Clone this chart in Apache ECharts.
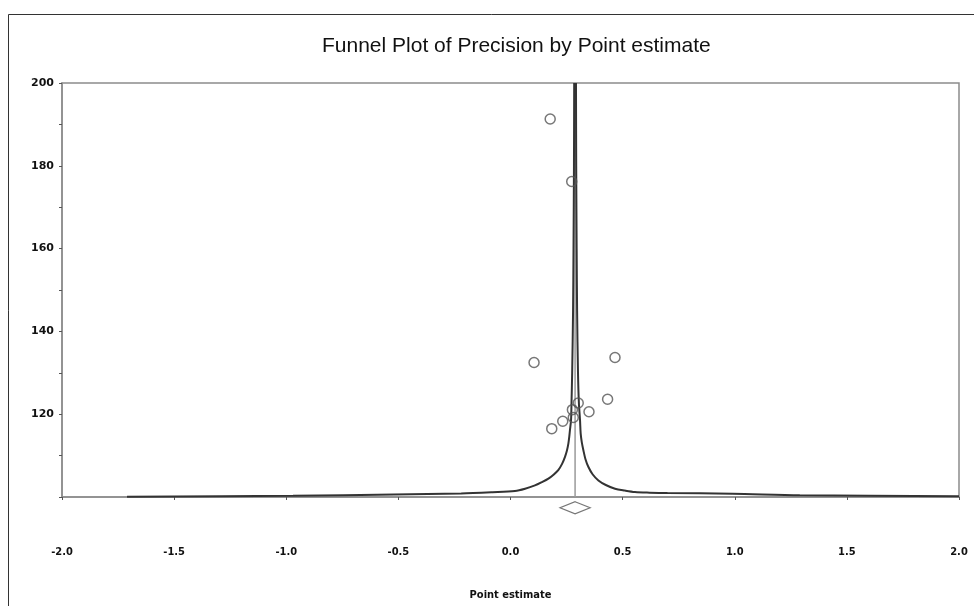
<!DOCTYPE html>
<html>
<head>
<meta charset="utf-8">
<script src="https://cdn.jsdelivr.net/npm/echarts@6/dist/echarts.min.js"></script>
<style>
html,body{margin:0;padding:0;background:#fff;}
#chart{width:974px;height:606px;}
</style>
</head>
<body>
<div id="chart"></div>
<script>
// Study points: point estimate (x) and precision (y)
var studyX = [0.177, 0.273, 0.105, 0.466, 0.433, 0.350, 0.302, 0.276, 0.280, 0.233, 0.184];
var studyY = [191.3, 176.2, 132.5, 133.7, 123.6, 120.6, 122.7, 121.1, 119.2, 118.3, 116.5];

// Funnel boundaries (ordered by increasing x)
var leftFunnelX = [-1.71, -0.97, -0.52, -0.22, -0.08, 0.02, 0.065, 0.109, 0.14, 0.169, 0.192, 0.213, 0.23, 0.243, 0.252, 0.258, 0.262, 0.265, 0.270, 0.272, 0.275, 0.279, 0.281, 0.283, 0.284];
var leftFunnelY = [100.05, 100.3, 100.6, 100.85, 101.15, 101.45, 102.0, 102.8, 103.6, 104.45, 105.4, 106.5, 108.0, 109.7, 111.3, 112.9, 114.5, 116.1, 118.6, 122.7, 130, 145, 160, 180, 200];
var rightFunnelX = [0.292, 0.293, 0.295, 0.297, 0.301, 0.305, 0.310, 0.313, 0.318, 0.325, 0.334, 0.347, 0.366, 0.392, 0.425, 0.466, 0.51, 0.555, 0.62, 0.70, 0.99, 1.29, 2.0];
var rightFunnelY = [200, 180, 160, 145, 130, 122.7, 118.6, 115.3, 113.2, 111.3, 109.2, 107.3, 105.5, 104.0, 102.9, 102.0, 101.55, 101.2, 101.05, 100.95, 100.8, 100.4, 100.2];

// Summary estimate
var summaryX = 0.288;
var summaryDiamondY = 97.4;
var centerLineY = [100, 200];

// Axis settings
var xMin = -2, xMax = 2, xStep = 0.5;
var yMin = 100, yMax = 200, yStep = 10;

function pairs(xs, ys) { return xs.map(function (x, i) { return [x, ys[i]]; }); }

var chart = echarts.init(document.getElementById('chart'));
chart.setOption({
  animation: false,
  backgroundColor: '#fff',
  title: {
    text: 'Funnel Plot of Precision by Point estimate',
    left: 317,
    top: 31,
    textStyle: { fontFamily: 'Liberation Sans', fontSize: 21, fontWeight: 'normal', color: '#111' }
  },
  graphic: [
    { type: 'line', shape: { x1: 8.5, y1: 14.5, x2: 974, y2: 14.5 }, style: { stroke: '#333', lineWidth: 1 } },
    { type: 'line', shape: { x1: 8.5, y1: 14.5, x2: 8.5, y2: 606 }, style: { stroke: '#333', lineWidth: 1 } }
  ],
  grid: {
    left: 62, right: 15, top: 83, bottom: 109,
    show: true, borderColor: '#8c8c8c', borderWidth: 1.5, backgroundColor: 'transparent'
  },
  xAxis: {
    type: 'value', min: xMin, max: xMax, interval: xStep,
    name: 'Point estimate', nameLocation: 'middle', nameGap: 93,
    nameTextStyle: { fontFamily: 'DejaVu Sans Condensed', fontWeight: 'bold', fontSize: 11, color: '#111' },
    axisLine: { show: true, onZero: false, lineStyle: { color: '#8c8c8c', width: 1.5 } },
    axisTick: { show: true, length: 3, lineStyle: { color: '#555' } },
    splitLine: { show: false },
    axisLabel: {
      margin: 50, color: '#111', fontFamily: 'DejaVu Sans Condensed', fontWeight: 'bold', fontSize: 11,
      formatter: function (v) { return v.toFixed(1); }
    }
  },
  yAxis: {
    type: 'value', min: yMin, max: yMax, interval: yStep,
    axisLine: { show: true, onZero: false, lineStyle: { color: '#8c8c8c', width: 1.5 } },
    axisTick: { show: true, length: 3, lineStyle: { color: '#555' } },
    splitLine: { show: false },
    axisLabel: {
      margin: 8, color: '#111', fontFamily: 'DejaVu Sans', fontWeight: 'bold', fontSize: 11,
      formatter: function (v) { return (v % 20 === 0 && v >= 120) ? String(v) : ''; }
    }
  },
  series: [
    {
      type: 'line', data: [[summaryX, centerLineY[0]], [summaryX, centerLineY[1]]],
      showSymbol: false, lineStyle: { color: '#9a9a9a', width: 1.5 }, z: 2
    },
    {
      type: 'line', data: pairs(leftFunnelX, leftFunnelY), smooth: 0.3,
      showSymbol: false, lineStyle: { color: '#333', width: 2 }, z: 3
    },
    {
      type: 'line', data: pairs(rightFunnelX, rightFunnelY), smooth: 0.3,
      showSymbol: false, lineStyle: { color: '#333', width: 2 }, z: 3
    },
    {
      type: 'scatter', data: pairs(studyX, studyY), symbol: 'circle', symbolSize: 10,
      itemStyle: { color: 'rgba(0,0,0,0)', borderColor: '#555', borderWidth: 1.5 }, z: 4
    },
    {
      type: 'scatter', clip: false, data: [[summaryX, summaryDiamondY]], symbol: 'diamond', symbolSize: [30, 12],
      itemStyle: { color: '#fff', borderColor: '#555', borderWidth: 1.5 }, z: 4
    }
  ]
});
</script>
</body>
</html>
